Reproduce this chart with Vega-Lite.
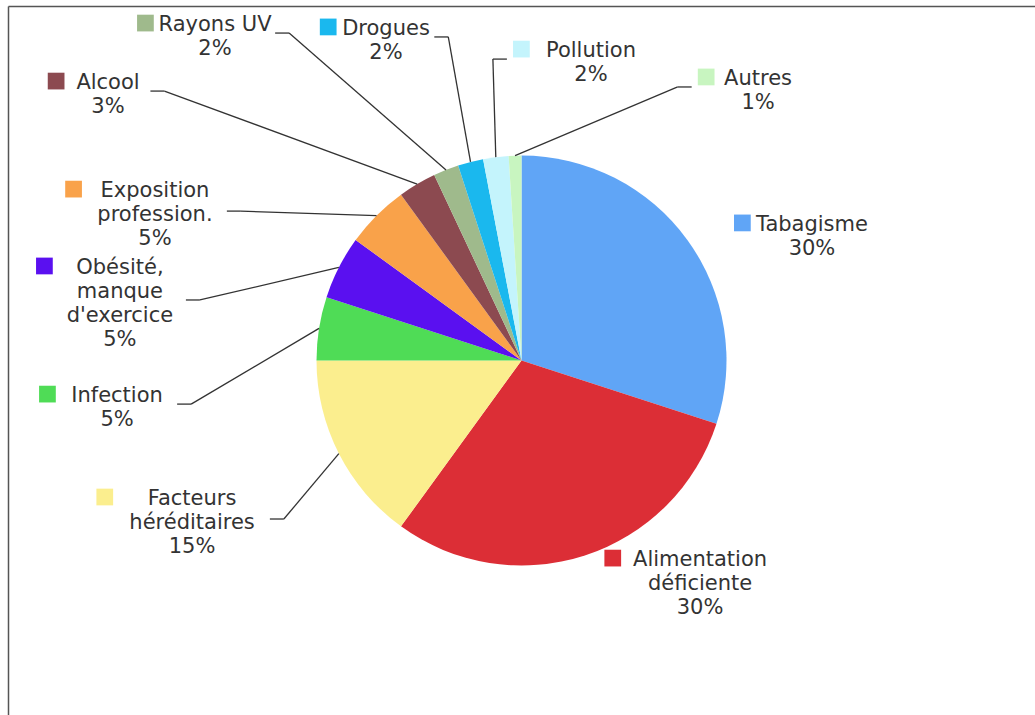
{
  "$schema": "https://vega.github.io/schema/vega-lite/v6.json",
  "width": 1027,
  "height": 709,
  "autosize": "none",
  "padding": {"left": 8, "top": 6, "right": 0, "bottom": 0},
  "background": "white",
  "config": {
    "view": {"stroke": null},
    "axis": {"labels": false, "ticks": false, "grid": false, "title": null, "domainColor": "#555555", "domainWidth": 1.5}
  },
  "data": {
    "values": [
      {"cause": "Tabagisme", "label": "Tabagisme", "pct": 30, "lx": 1.417, "ly": 0.715},
      {"cause": "Alimentation déficiente", "label": "Alimentation\ndéficiente", "pct": 30, "lx": 0.871, "ly": -0.92},
      {"cause": "Facteurs héréditaires", "label": "Facteurs\nhéréditaires", "pct": 15, "lx": -1.607, "ly": -0.622},
      {"cause": "Infection", "label": "Infection", "pct": 5, "lx": -1.973, "ly": -0.12},
      {"cause": "Obésité, manque d'exercice", "label": "Obésité,\nmanque\nd'exercice", "pct": 5, "lx": -1.959, "ly": 0.505},
      {"cause": "Exposition professionnelle", "label": "Exposition\nprofession.", "pct": 5, "lx": -1.788, "ly": 0.88},
      {"cause": "Alcool", "label": "Alcool", "pct": 3, "lx": -2.017, "ly": 1.407},
      {"cause": "Rayons UV", "label": "Rayons UV", "pct": 2, "lx": -1.495, "ly": 1.69},
      {"cause": "Drogues", "label": "Drogues", "pct": 2, "lx": -0.661, "ly": 1.671},
      {"cause": "Pollution", "label": "Pollution", "pct": 2, "lx": 0.339, "ly": 1.563},
      {"cause": "Autres", "label": "Autres", "pct": 1, "lx": 1.154, "ly": 1.427}
    ]
  },
  "transform": [
    {"window": [{"op": "row_number", "as": "idx"}, {"op": "sum", "field": "pct", "as": "cum"}], "frame": [null, 0]},
    {"calculate": "(datum.cum - datum.pct / 2) / 100 * 2 * PI", "as": "mid"},
    {"calculate": "sin(datum.mid)", "as": "sx"},
    {"calculate": "cos(datum.mid)", "as": "sy"},
    {"calculate": "datum.label + '\\n' + datum.pct + '%'", "as": "txt"},
    {"calculate": "max(length(split(datum.label, '\\n')[0]), length(split(datum.label, '\\n')[1] || ''), length(split(datum.label, '\\n')[2] || ''), length(datum.pct + '%'))", "as": "maxLen"},
    {"calculate": "length(split(datum.label, '\\n')) + 1", "as": "nLines"},
    {"calculate": "datum.lx - (datum.maxLen * 11.8 / 2 + 8 + 8.5) / 205", "as": "swX"},
    {"calculate": "datum.ly - 9 / 205", "as": "swY"},
    {"calculate": "datum.sx > datum.lx ? 1 : -1", "as": "side"},
    {"calculate": "datum.side > 0 ? datum.lx + (datum.maxLen * 11.8 / 2 + 7) / 205 : datum.swX - (8.5 + 6) / 205", "as": "ax"},
    {"calculate": "datum.ly - ((datum.nLines - 1) * 24 + 14) / 2 / 205", "as": "ay"},
    {"calculate": "datum.ax + datum.side * 14 / 205", "as": "bx"}
  ],
  "layer": [
    {
      "mark": {"type": "arc", "outerRadius": 205},
      "encoding": {
        "theta": {"field": "pct", "type": "quantitative", "stack": true},
        "order": {"field": "idx", "type": "quantitative"},
        "color": {
          "field": "cause", "type": "nominal", "legend": null,
          "scale": {
            "domain": ["Tabagisme", "Alimentation déficiente", "Facteurs héréditaires", "Infection", "Obésité, manque d'exercice", "Exposition professionnelle", "Alcool", "Rayons UV", "Drogues", "Pollution", "Autres"],
            "range": ["#60a5f6", "#dc2e36", "#fbee8e", "#4fdc56", "#5a10f0", "#f9a24a", "#8c4a50", "#9fba8c", "#1ab8ee", "#c4f4fc", "#c8f5c0"]
          }
        }
      }
    },
    {
      "transform": [{"filter": "datum.pct < 20"}],
      "mark": {"type": "rule", "color": "#333333", "strokeWidth": 1.3},
      "encoding": {
        "x": {"field": "ax", "type": "quantitative", "scale": {"domain": [-2.5049, 2.5049], "nice": false, "zero": false}, "axis": {"orient": "top"}},
        "y": {"field": "ay", "type": "quantitative", "scale": {"domain": [-1.7293, 1.7293], "nice": false, "zero": false}, "axis": {"orient": "left"}},
        "x2": {"field": "bx"},
        "y2": {"field": "ay"}
      }
    },
    {
      "transform": [{"filter": "datum.pct < 20"}],
      "mark": {"type": "rule", "color": "#333333", "strokeWidth": 1.3},
      "encoding": {
        "x": {"field": "bx", "type": "quantitative", "scale": {"domain": [-2.5049, 2.5049], "nice": false, "zero": false}, "axis": {"orient": "top"}},
        "y": {"field": "ay", "type": "quantitative", "scale": {"domain": [-1.7293, 1.7293], "nice": false, "zero": false}, "axis": {"orient": "left"}},
        "x2": {"field": "sx"},
        "y2": {"field": "sy"}
      }
    },
    {
      "mark": {"type": "square", "size": 280, "filled": true, "opacity": 1},
      "encoding": {
        "x": {"field": "swX", "type": "quantitative", "scale": {"domain": [-2.5049, 2.5049], "nice": false, "zero": false}, "axis": {"orient": "top"}},
        "y": {"field": "swY", "type": "quantitative", "scale": {"domain": [-1.7293, 1.7293], "nice": false, "zero": false}, "axis": {"orient": "left"}},
        "color": {
          "field": "cause", "type": "nominal", "legend": null,
          "scale": {
            "domain": ["Tabagisme", "Alimentation déficiente", "Facteurs héréditaires", "Infection", "Obésité, manque d'exercice", "Exposition professionnelle", "Alcool", "Rayons UV", "Drogues", "Pollution", "Autres"],
            "range": ["#60a5f6", "#dc2e36", "#fbee8e", "#4fdc56", "#5a10f0", "#f9a24a", "#8c4a50", "#9fba8c", "#1ab8ee", "#c4f4fc", "#c8f5c0"]
          }
        }
      }
    },
    {
      "mark": {"type": "text", "align": "center", "baseline": "top", "lineBreak": "\n", "font": "DejaVu Sans", "fontSize": 21, "lineHeight": 24, "color": "#333333"},
      "encoding": {
        "x": {"field": "lx", "type": "quantitative", "scale": {"domain": [-2.5049, 2.5049], "nice": false, "zero": false}, "axis": {"orient": "top"}},
        "y": {"field": "ly", "type": "quantitative", "scale": {"domain": [-1.7293, 1.7293], "nice": false, "zero": false}, "axis": {"orient": "left"}},
        "text": {"field": "txt"}
      }
    }
  ]
}
